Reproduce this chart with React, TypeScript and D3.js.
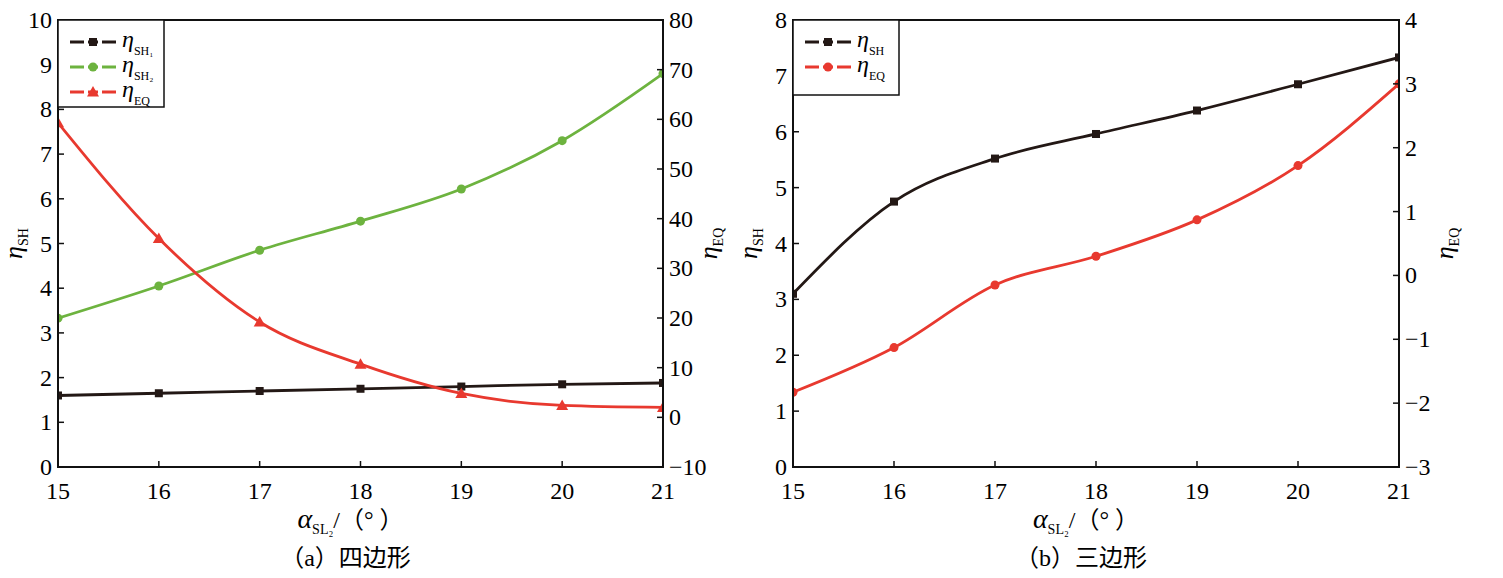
import * as d3 from 'd3';

const xs = [15, 16, 17, 18, 19, 20, 21];
const aSH1 = [1.6, 1.65, 1.7, 1.75, 1.8, 1.85, 1.88];
const aSH2 = [3.33, 4.05, 4.85, 5.5, 6.22, 7.3, 8.8];
const aEQ = [59.3, 36, 19.2, 10.7, 4.8, 2.4, 2];
const bSH = [3.1, 4.75, 5.52, 5.96, 6.38, 6.85, 7.33];
const bEQ = [-1.83, -1.13, -0.15, 0.3, 0.87, 1.72, 3.0];

const W = 1503, H = 578;
const top = 20, bottom = 467;
const font = "'Liberation Serif', 'DejaVu Serif', 'Noto Sans CJK SC', serif";
const BLACK = '#231815', GREEN = '#6db33f', RED = '#e8392f';

type S = { vals: number[]; axis: 'l' | 'r'; color: string; marker: 'sq' | 'ci' | 'tr' };

function Marker({ x, y, m, c }: { x: number; y: number; m: string; c: string }) {
  if (m === 'sq') return <rect x={x - 4} y={y - 4} width={8} height={8} fill={c} />;
  if (m === 'ci') return <circle cx={x} cy={y} r={4.5} fill={c} />;
  return <path d={`M${x},${y - 6}L${x + 6},${y + 4.5}L${x - 6},${y + 4.5}Z`} fill={c} />;
}

function Panel({ x0, x1, lDom, lTicks, rDom, rTicks, series, lLabel, rLabel, legend, cap, lw, lh }: any) {
  const x = d3.scaleLinear().domain([15, 21]).range([x0, x1]);
  const yl = d3.scaleLinear().domain(lDom).range([bottom, top]);
  const yr = d3.scaleLinear().domain(rDom).range([bottom, top]);
  const cx = (x0 + x1) / 2;
  return (
    <g style={{ fontFamily: font }}>
      <defs>
        <clipPath id={`c${x0}`}><rect x={x0} y={top} width={x1 - x0} height={bottom - top} /></clipPath>
      </defs>
      <g clipPath={`url(#c${x0})`}>
        {series.map((s: S, i: number) => {
          const y = s.axis === 'l' ? yl : yr;
          const line = d3.line<number>().x((_, j) => x(xs[j])).y(v => y(v)).curve(d3.curveMonotoneX);
          return (
            <g key={i}>
              <path d={line(s.vals)!} fill="none" stroke={s.color} strokeWidth={2.8} />
              {s.vals.map((v, j) => <Marker key={j} x={x(xs[j])} y={y(v)} m={s.marker} c={s.color} />)}
            </g>
          );
        })}
      </g>
      <rect x={x0} y={top} width={x1 - x0} height={bottom - top} fill="none" stroke="#111" strokeWidth={2} />
      {lTicks.map((t: number) => (
        <g key={'l' + t}>
          <line x1={x0} x2={x0 + 6} y1={yl(t)} y2={yl(t)} stroke="#111" strokeWidth={1.5} />
          <text x={x0 - 6} y={yl(t) + 8} textAnchor="end" fontSize={24}>{t}</text>
        </g>
      ))}
      {rTicks.map((t: number) => (
        <g key={'r' + t}>
          <line x1={x1} x2={x1 - 6} y1={yr(t)} y2={yr(t)} stroke="#111" strokeWidth={1.5} />
          <text x={x1 + 6} y={yr(t) + 8} fontSize={24}>{t < 0 ? '−' + -t : t}</text>
        </g>
      ))}
      {xs.map(t => (
        <g key={'x' + t}>
          <line x1={x(t)} x2={x(t)} y1={bottom} y2={bottom - 6} stroke="#111" strokeWidth={1.5} />
          <text x={x(t)} y={bottom + 32} textAnchor="middle" fontSize={24}>{t}</text>
        </g>
      ))}
      <text transform={`translate(${x0 - 36},${(top + bottom) / 2}) rotate(-90)`} textAnchor="middle" fontSize={26}>
        <tspan fontStyle="italic">η</tspan><tspan fontSize={14} dy={6}>{lLabel}</tspan>
      </text>
      <text transform={`translate(${x1 + 54},${(top + bottom) / 2}) rotate(-90)`} textAnchor="middle" fontSize={26}>
        <tspan fontStyle="italic">η</tspan><tspan fontSize={14} dy={6}>{rLabel}</tspan>
      </text>
      <text x={cx - 10} y={528} textAnchor="middle" fontSize={24}>
        <tspan fontStyle="italic" fontSize={28}>α</tspan><tspan fontSize={14} dy={6}>SL₂</tspan><tspan dy={-6}>/（°  ）</tspan>
      </text>
      <text x={cx - 15} y={566} textAnchor="middle" fontSize={24}>{cap}</text>
      <rect x={x0} y={top} width={lw} height={lh} fill="#fff" stroke="#111" strokeWidth={1.5} />
      {legend.map((l: any, i: number) => {
        const y = top + 22 + i * 25;
        return (
          <g key={i}>
            <line x1={x0 + 12} x2={x0 + 58} y1={y} y2={y} stroke={l.color} strokeWidth={3} strokeDasharray="14,4,10,4,14" />
            <Marker x={x0 + 35} y={y} m={l.marker} c={l.color} />
            <text x={x0 + 64} y={y + 5} fontSize={24}>
              <tspan fontStyle="italic">η</tspan><tspan fontSize={12} dy={8}>{l.label}</tspan>
            </text>
          </g>
        );
      })}
    </g>
  );
}

export default function App() {
  return (
    <svg width={W} height={H} style={{ display: 'block', position: 'absolute', left: 0, top: 0 }}>
      <rect width={W} height={H} fill="#fff" />
      <Panel x0={58} x1={663} lDom={[0, 10]} lTicks={d3.range(0, 11)} rDom={[-10, 80]} rTicks={d3.range(-10, 81, 10)}
        lLabel="SH" rLabel="EQ" cap="（a）四边形" lw={106} lh={87}
        series={[
          { vals: aSH1, axis: 'l', color: BLACK, marker: 'sq' },
          { vals: aSH2, axis: 'l', color: GREEN, marker: 'ci' },
          { vals: aEQ, axis: 'r', color: RED, marker: 'tr' },
        ]}
        legend={[
          { label: 'SH₁', color: BLACK, marker: 'sq' },
          { label: 'SH₂', color: GREEN, marker: 'ci' },
          { label: 'EQ', color: RED, marker: 'tr' },
        ]} />
      <Panel x0={793} x1={1399} lDom={[0, 8]} lTicks={d3.range(0, 9)} rDom={[-3, 4]} rTicks={d3.range(-3, 5)}
        lLabel="SH" rLabel="EQ" cap="（b）三边形" lw={106} lh={75}
        series={[
          { vals: bSH, axis: 'l', color: BLACK, marker: 'sq' },
          { vals: bEQ, axis: 'r', color: RED, marker: 'ci' },
        ]}
        legend={[
          { label: 'SH', color: BLACK, marker: 'sq' },
          { label: 'EQ', color: RED, marker: 'ci' },
        ]} />
    </svg>
  );
}
